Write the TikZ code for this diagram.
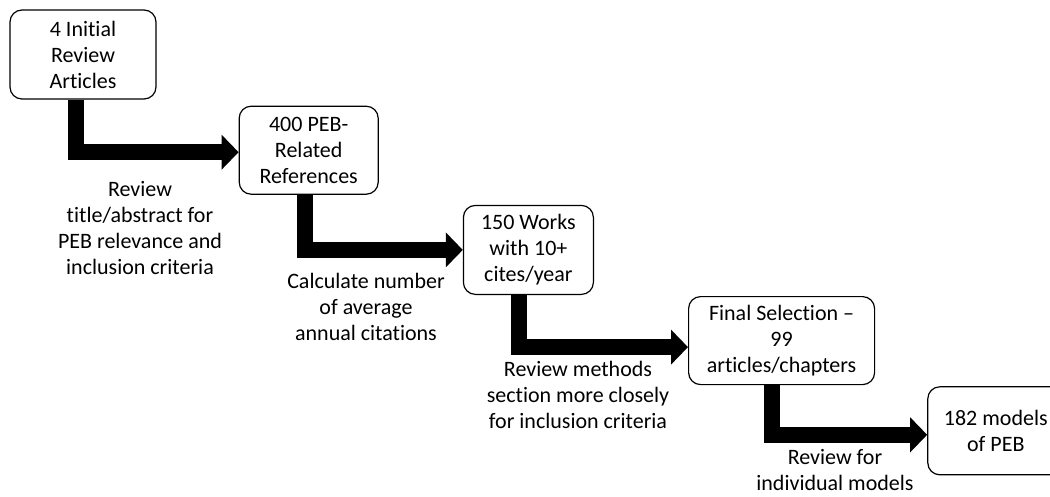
\documentclass[tikz,border=0pt]{standalone}
\usepackage{fontspec}
\setmainfont{Carlito}[Ligatures={TeX,NoCommon}]
\usetikzlibrary{arrows.meta,positioning}

\begin{document}
\begin{tikzpicture}[
  x=1pt, y=1pt,
  font=\fontsize{22}{26}\selectfont,
  box/.style={draw, rounded corners=12pt, align=center, line width=1.2pt,
    minimum height=88pt, inner sep=2pt},
  note/.style={align=center, inner sep=0pt},
  arr/.style={-{Triangle[length=17pt, width=34pt]}, line width=16pt, line join=miter}
]
\useasboundingbox (0,0) rectangle (1050,-496);
\node[box, minimum width=146pt, minimum height=89pt] (initial) at (83,-54.5) {4 Initial\\Review\\Articles};
\node[box, minimum width=139pt, below right=6pt and 82pt of initial] (related) {400 PEB-\\Related\\References};
\node[box, minimum width=130pt, minimum height=89pt, below right=10pt and 84pt of related] (works) {150 Works\\with 10+\\cites/year};
\node[box, minimum width=186pt, below right=1pt and 94pt of works] (final) {Final Selection –\\99\\articles/chapters};
\node[box, minimum width=136pt, below right=1pt and 52pt of final] (models) {182 models\\of PEB};
\draw[arr] ([xshift=-7.5pt]initial.south) |- ([yshift=-2pt]related.west);
\draw[arr] ([xshift=-3.5pt]related.south) |- (works.west);
\draw[arr] ([xshift=-9.5pt]works.south) |- ([yshift=-6.5pt]final.west);
\draw[arr] ([xshift=-9.5pt]final.south) |- ([yshift=-4pt]models.west);
\node[note] (screen) at (140,-228) {Review\\title/abstract for\\PEB relevance and\\inclusion criteria};
\node[note] (cites) at (366,-307) {Calculate number\\of average\\annual citations};
\node[note] (methods) at (578,-395) {Review methods\\section more closely\\for inclusion criteria};
\node[note] (split) at (835,-470) {Review for\\individual models};
\end{tikzpicture}
\end{document}
